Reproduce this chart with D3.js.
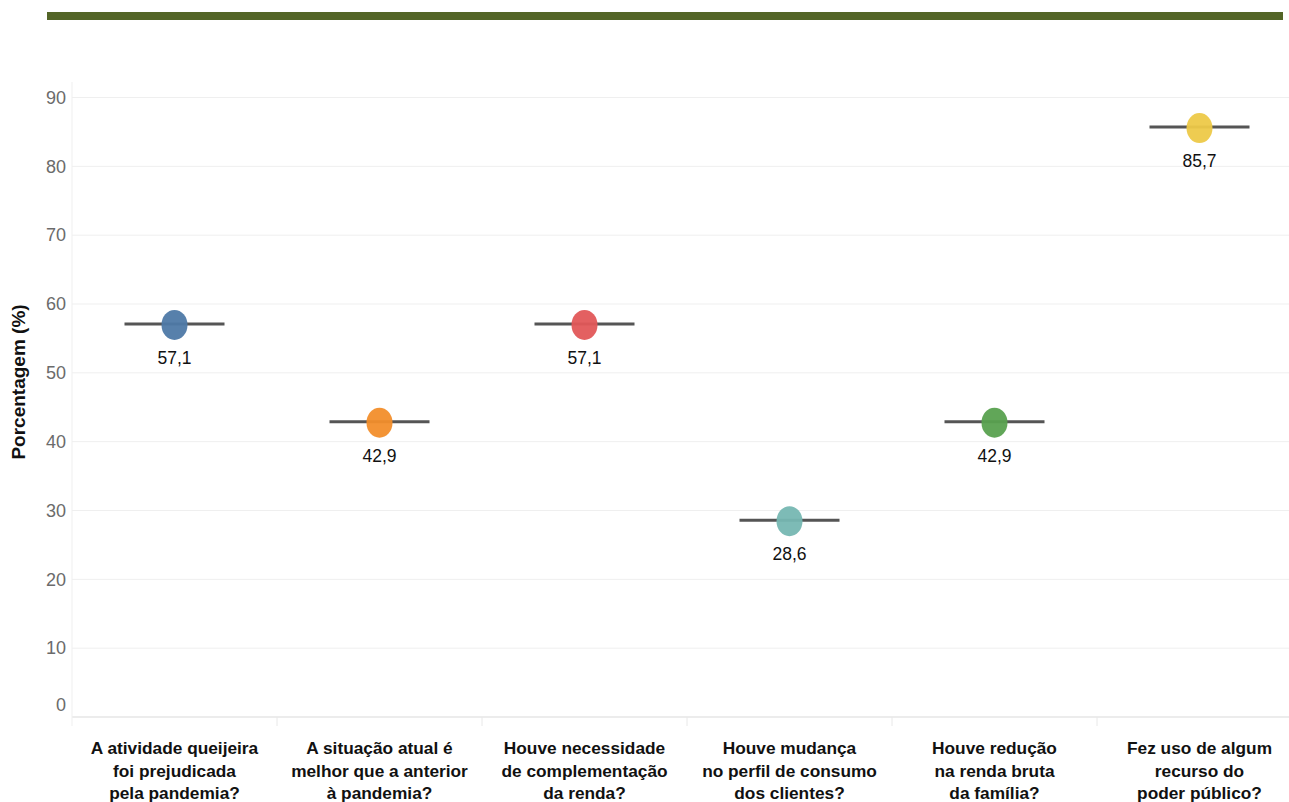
<!DOCTYPE html>
<html>
<head>
<meta charset="utf-8">
<script src="https://cdn.jsdelivr.net/npm/d3@7"></script>
<style>
  html, body { margin: 0; padding: 0; background: #fff; }
  svg { display: block; font-family: "Liberation Sans", Arial, sans-serif; }
</style>
</head>
<body>
<svg id="chart" width="1289" height="802"></svg>
<script>
// Survey questions (one per column), answer share in percent and dot colours
const categories = [
  ["A atividade queijeira", "foi prejudicada", "pela pandemia?"],
  ["A situação atual é", "melhor que a anterior", "à pandemia?"],
  ["Houve necessidade", "de complementação", "da renda?"],
  ["Houve mudança", "no perfil de consumo", "dos clientes?"],
  ["Houve redução", "na renda bruta", "da família?"],
  ["Fez uso de algum", "recurso do", "poder público?"]
];
const values = [57.1, 42.9, 57.1, 28.6, 42.9, 85.7];
const colors = ["#4e79a7", "#f28e2b", "#e15759", "#76b7b2", "#59a14f", "#edc948"];
const yTicks = [0, 10, 20, 30, 40, 50, 60, 70, 80, 90];

const svg = d3.select("#chart");

// header rule
svg.append("rect")
  .attr("x", 47).attr("y", 12).attr("width", 1236).attr("height", 8)
  .attr("fill", "#536527");

const left = 72, plotTop = 82, zeroY = 717;
const bandW = 205;

const x = d3.scaleBand()
  .domain(d3.range(categories.length))
  .range([left, left + bandW * categories.length])
  .paddingInner(0).paddingOuter(0);

const y = d3.scaleLinear().domain([0, 90]).range([zeroY, 97.5]);

// horizontal gridlines
svg.append("g").selectAll("line")
  .data(yTicks)
  .join("line")
  .attr("x1", left).attr("x2", 1289)
  .attr("y1", d => y(d)).attr("y2", d => y(d))
  .attr("stroke", d => d === 0 ? "#e6e6e6" : "#efefef")
  .attr("stroke-width", d => d === 0 ? 1.5 : 1);

// vertical axis line
svg.append("line")
  .attr("x1", left).attr("x2", left)
  .attr("y1", plotTop).attr("y2", zeroY + 9)
  .attr("stroke", "#efefef").attr("stroke-width", 1);

// column separators below the baseline
svg.append("g").selectAll("line")
  .data(d3.range(1, categories.length))
  .join("line")
  .attr("x1", d => x(d)).attr("x2", d => x(d))
  .attr("y1", zeroY).attr("y2", zeroY + 9)
  .attr("stroke", "#e8e8e8").attr("stroke-width", 1);

// y tick labels (the zero label is nudged up to sit inside the plot)
svg.append("g").selectAll("text")
  .data(yTicks)
  .join("text")
  .attr("x", 66)
  .attr("y", d => y(d) + (d === 0 ? -12 : 0))
  .attr("dy", "0.35em")
  .attr("text-anchor", "end")
  .attr("font-size", 18)
  .attr("fill", "#6b6b6b")
  .text(d => d);

// y axis title
svg.append("text")
  .attr("transform", "translate(25,382) rotate(-90)")
  .attr("text-anchor", "middle")
  .attr("font-size", 19)
  .attr("font-weight", "bold")
  .attr("fill", "#111")
  .text("Porcentagem (%)");

// category labels
const catG = svg.append("g").selectAll("text")
  .data(categories)
  .join("text")
  .attr("x", (d, i) => x(i) + x.bandwidth() / 2)
  .attr("text-anchor", "middle")
  .attr("font-size", 17.3)
  .attr("font-weight", "bold")
  .attr("fill", "#111");
catG.selectAll("tspan")
  .data(d => d)
  .join("tspan")
  .attr("x", function() { return d3.select(this.parentNode).attr("x"); })
  .attr("y", (d, j) => 754 + j * 22.5)
  .text(d => d);

// marks: reference line, dot and value label per question
const marks = svg.append("g").selectAll("g")
  .data(values)
  .join("g");

marks.append("line")
  .attr("x1", (d, i) => x(i) + x.bandwidth() / 2 - 50)
  .attr("x2", (d, i) => x(i) + x.bandwidth() / 2 + 50)
  .attr("y1", d => y(d)).attr("y2", d => y(d))
  .attr("stroke", "#555").attr("stroke-width", 3);

marks.append("ellipse")
  .attr("cx", (d, i) => x(i) + x.bandwidth() / 2)
  .attr("cy", d => y(d) + 1)
  .attr("rx", 13).attr("ry", 15)
  .attr("fill", (d, i) => colors[i])
  .attr("fill-opacity", 0.95);

marks.append("text")
  .attr("x", (d, i) => x(i) + x.bandwidth() / 2)
  .attr("y", d => y(d) + 34)
  .attr("dy", "0.35em")
  .attr("text-anchor", "middle")
  .attr("font-size", 17.5)
  .attr("fill", "#111")
  .text(d => String(d).replace(".", ","));
</script>
</body>
</html>
